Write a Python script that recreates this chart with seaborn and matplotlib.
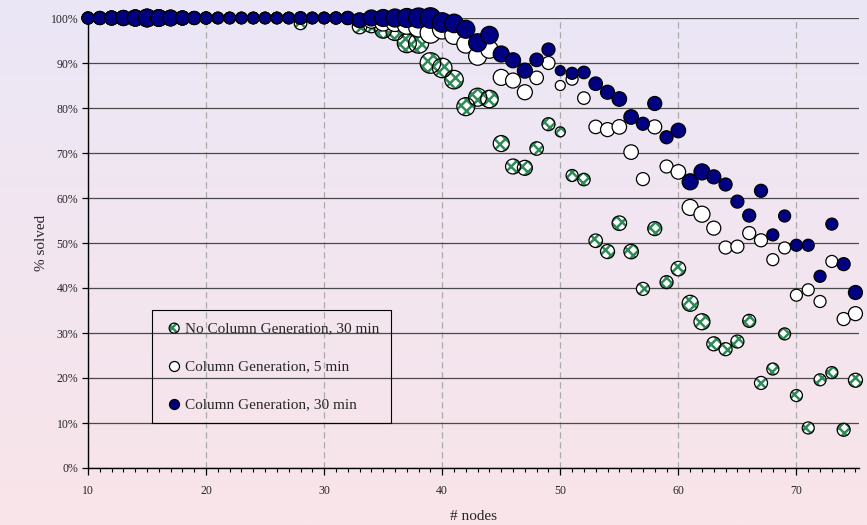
import numpy as np
import pandas as pd
import seaborn as sns
import matplotlib.pyplot as plt
from matplotlib.colors import LinearSegmentedColormap
from matplotlib.ticker import MultipleLocator, FixedLocator

# ---- data ----
nodes = list(range(10, 76))

# bubble diameter (shared by the three series at each node count)
bubble = [12, 13, 14, 15, 16, 17.5, 16.5, 15.5, 14, 13,
          12, 11.5, 11.5, 11.5, 11.5, 11.5, 11.5, 11.5, 12.5, 11.5,
          11.5, 12, 13, 14.5, 16, 17, 18, 19, 20, 20.5,
          19.5, 18.5, 18, 18, 17.5, 16, 15, 15, 13.5, 13,
          10, 12, 12.5, 13.5, 14, 14.5, 14.5, 13, 14, 13,
          14.5, 16, 16, 14, 13, 13, 13, 13, 12, 12,
          12, 12, 12, 12, 13, 14]

no_cg_30 = [100] * 18 + [98.8, 100, 100, 100, 100,
            98.1, 98.5, 97.4, 97, 94.4, 94.4, 90,
            88.9, 86.3, 80.3, 82.4, 82, 72.1, 67, 66.7, 71, 76.4,
            74.7, 65, 64.1, 50.5, 48.1, 54.4, 48.1, 39.8, 53.2, 41.3,
            44.3, 36.6, 32.5, 27.6, 26.4, 28.1, 32.7, 18.9, 22, 29.8,
            16.1, 8.9, 19.6, 21.2, 8.5, 19.5]

cg_5 = [100] * 23 + [99.5, 99.5, 99, 99, 98.5, 98, 96.7,
        97.5, 96.2, 94.2, 91.5, 93, 86.8, 86.1, 83.5, 86.7, 90,
        85, 86.4, 82.2, 75.8, 75.2, 75.8, 70.2, 64.2, 75.8, 67,
        65.8, 57.9, 56.4, 53.3, 49, 49.2, 52.2, 50.6, 46.3, 48.9,
        38.4, 39.6, 37, 45.9, 33.1, 34.3]

cg_30 = [100] * 23 + [99.5, 100, 100, 100, 100, 100, 100,
         99, 98.8, 97.5, 94.5, 96.2, 92, 90.6, 88.3, 90.7, 93,
         88.3, 87.7, 87.9, 85.4, 83.5, 82, 78, 76.5, 81, 73.5,
         75, 63.6, 65.8, 64.7, 63, 59.2, 56.1, 61.6, 51.8, 56,
         49.5, 49.5, 42.6, 54.2, 45.3, 39]

series_names = ["No Column Generation, 30 min",
                "Column Generation, 5 min",
                "Column Generation, 30 min"]
y_ticks = list(range(0, 101, 10))
y_labels = [f"{v}%" for v in y_ticks]
x_ticks = list(range(10, 71, 10))

GREEN = "#2e8b57"
NAVY = "#000080"

sns.set_theme(style="white")
plt.rcParams["font.family"] = ["Liberation Serif", "DejaVu Serif"]
plt.rcParams["hatch.linewidth"] = 1.8

DPI = 100
df = pd.DataFrame({"nodes": nodes, "bubble": bubble,
                   series_names[0]: no_cg_30,
                   series_names[1]: cg_5,
                   series_names[2]: cg_30})
df = df.melt(id_vars=["nodes", "bubble"], var_name="series", value_name="solved")
df["area"] = (df["bubble"] * 72 / DPI) ** 2
amin, amax = df["area"].min(), df["area"].max()

fig = plt.figure(figsize=(867 / DPI, 525 / DPI), dpi=DPI)

# gradient background
bg = fig.add_axes([0, 0, 1, 1], zorder=-10)
cmap = LinearSegmentedColormap.from_list("bg", ["#ebe7f6", "#f9e4e9"])
bg.imshow(np.linspace(0, 1, 256).reshape(-1, 1), aspect="auto", cmap=cmap,
          extent=[0, 1, 0, 1])
bg.axis("off")

ax = fig.add_axes([88 / 867, 57 / 525, 771 / 867, 450 / 525])
ax.set_facecolor("none")

common = dict(x="nodes", y="solved", size="area", sizes=(amin, amax),
              size_norm=(amin, amax), legend=False, ax=ax, clip_on=False)

g = df[df["series"] == series_names[0]]
sns.scatterplot(data=g, color="white", edgecolor=GREEN, linewidth=0,
                hatch="xxx", zorder=3, **common)
sns.scatterplot(data=g, color="none", edgecolor="black", linewidth=0.9,
                zorder=3, **common)
sns.scatterplot(data=df[df["series"] == series_names[1]], color="white",
                edgecolor="black", linewidth=0.9, zorder=4, **common)
sns.scatterplot(data=df[df["series"] == series_names[2]], color=NAVY,
                edgecolor="black", linewidth=0.9, zorder=5, **common)

ax.set_xlim(10, 75.3)
ax.set_ylim(0, 100)
ax.xaxis.set_major_locator(FixedLocator(x_ticks))
ax.xaxis.set_minor_locator(MultipleLocator(1))
ax.set_yticks(y_ticks)
ax.set_yticklabels(y_labels)

ax.yaxis.grid(True, color="#4a4a4a", lw=0.9, ls="-")
ax.xaxis.grid(True, which="major", color="#ababab", lw=0.9, ls=(0, (5, 3)))
ax.set_axisbelow(True)

for side in ["top", "right"]:
    ax.spines[side].set_visible(False)
for side in ["left", "bottom"]:
    ax.spines[side].set_color("black")
    ax.spines[side].set_linewidth(1.0)

ax.tick_params(axis="x", which="major", direction="out", length=5, width=0.9,
               color="black", labelsize=8.5, pad=7, bottom=True)
ax.tick_params(axis="x", which="minor", direction="out", length=3, width=0.8,
               color="black", bottom=True)
ax.tick_params(axis="y", which="major", direction="out", length=4, width=0.9,
               color="black", labelsize=8.5, pad=3, left=True)

ax.set_xlabel("# nodes", fontsize=11)
ax.xaxis.set_label_coords(0.5, -0.093)
ax.set_ylabel("% solved", fontsize=11)
ax.yaxis.set_label_coords(-0.06, 0.5)
ax.yaxis.label.set_va("center")

# legend proxies
leg_s = (10 * 72 / DPI) ** 2
h_fill = ax.scatter([], [], s=leg_s, color="white", edgecolor=GREEN,
                    linewidth=0, hatch="xxx")
h_edge = ax.scatter([], [], s=leg_s, color="none", edgecolor="black",
                    linewidth=0.9)
h_white = ax.scatter([], [], s=leg_s, color="white", edgecolor="black",
                     linewidth=0.9)
h_navy = ax.scatter([], [], s=leg_s, color=NAVY, edgecolor="black",
                    linewidth=0.9)
leg = ax.legend(handles=[(h_fill, h_edge), h_white, h_navy],
                labels=series_names, loc="upper left",
                bbox_to_anchor=(64 / 771, 158 / 450), borderaxespad=0,
                fontsize=11, frameon=True, fancybox=False, framealpha=1,
                labelspacing=1.6, handlelength=1.4, handletextpad=0.0,
                borderpad=0.75)
leg.get_frame().set_facecolor("none")
leg.get_frame().set_edgecolor("black")
leg.get_frame().set_linewidth(0.8)

fig.savefig("out.png", dpi=DPI)
